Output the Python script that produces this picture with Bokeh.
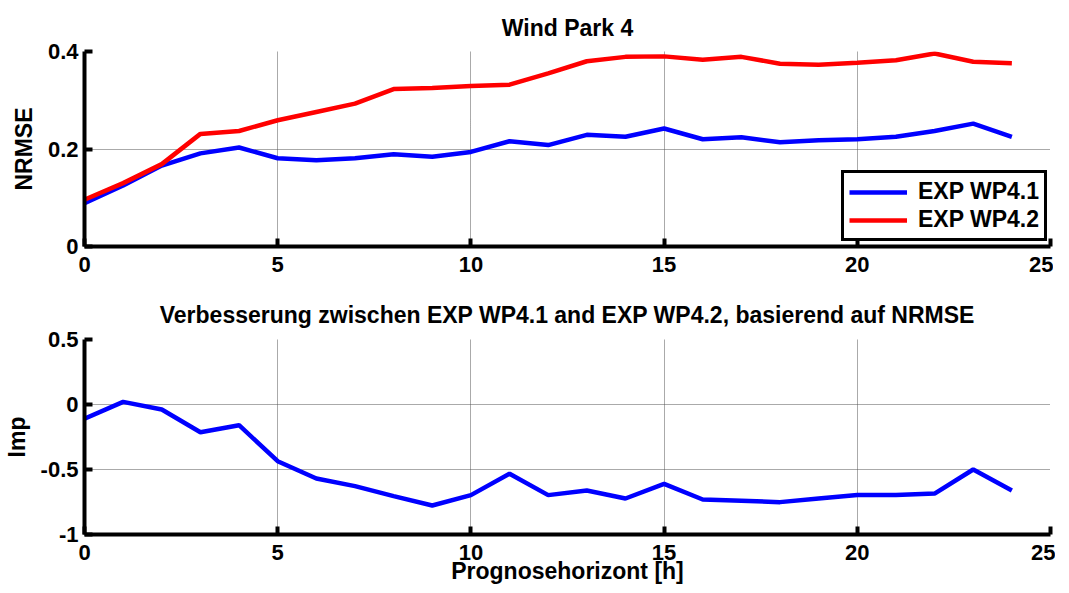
from bokeh.plotting import figure
from bokeh.layouts import column
from bokeh.models import Range1d, FixedTicker, Legend, LegendItem
from bokeh.embed import file_html
from bokeh.resources import INLINE

hours = list(range(25))
nrmse_wp41 = [0.089, 0.125, 0.166, 0.191, 0.203, 0.181, 0.177, 0.181, 0.189, 0.184,
              0.194, 0.216, 0.208, 0.229, 0.225, 0.242, 0.220, 0.224, 0.214, 0.218,
              0.220, 0.225, 0.237, 0.252, 0.225]
nrmse_wp42 = [0.096, 0.130, 0.169, 0.231, 0.237, 0.259, 0.276, 0.293, 0.323, 0.325,
              0.329, 0.332, 0.355, 0.380, 0.389, 0.390, 0.383, 0.389, 0.375, 0.373,
              0.377, 0.382, 0.396, 0.379, 0.376]
improvement = [-0.110, 0.020, -0.038, -0.213, -0.159, -0.436, -0.569, -0.628, -0.705, -0.777,
               -0.697, -0.533, -0.697, -0.662, -0.723, -0.610, -0.731, -0.741, -0.751, -0.723,
               -0.697, -0.697, -0.685, -0.500, -0.662]

x_ticks = [0, 5, 10, 15, 20, 25]
top_y_ticks = [0, 0.2, 0.4]
top_y_labels = ["0", "0.2", "0.4"]
bot_y_ticks = [-1, -0.5, 0, 0.5]
bot_y_labels = ["-1", "-0.5", "0", "0.5"]

title_top = "Wind Park 4"
title_bot = "Verbesserung zwischen EXP WP4.1 and EXP WP4.2, basierend auf NRMSE"
series_names = ["EXP WP4.1", "EXP WP4.2"]

FONT = "Liberation Sans"
BLUE = "#0000ff"
RED = "#ff0000"


def style(p, yticks, ylabels, ylabel, xlabel=None, title_standoff=16):
    p.outline_line_color = None
    p.background_fill_color = "white"
    p.border_fill_color = "white"
    p.title.text_font = FONT
    p.title.text_font_style = "bold"
    p.title.text_font_size = "23px"
    p.title.text_color = "black"
    p.title.align = "center"
    p.title.standoff = title_standoff
    for ax in (p.xaxis[0], p.yaxis[0]):
        ax.axis_line_width = 4
        ax.axis_line_color = "black"
        ax.major_tick_line_width = 4
        ax.major_tick_line_color = "black"
        ax.major_tick_in = 8
        ax.major_tick_out = 0
        ax.minor_tick_line_color = None
        ax.major_label_text_font = FONT
        ax.major_label_text_font_style = "bold"
        ax.major_label_text_font_size = "22px"
        ax.major_label_text_color = "black"
        ax.axis_label_text_font = FONT
        ax.axis_label_text_font_style = "bold"
        ax.axis_label_text_font_size = "23px"
        ax.axis_label_text_color = "black"
    p.xaxis[0].ticker = FixedTicker(ticks=x_ticks)
    p.xaxis[0].major_label_standoff = 10
    p.yaxis[0].ticker = FixedTicker(ticks=yticks)
    p.yaxis[0].major_label_overrides = {t: l for t, l in zip(yticks, ylabels)}
    p.yaxis[0].major_label_standoff = 6
    p.yaxis[0].axis_label = ylabel
    p.yaxis[0].axis_label_standoff = 8
    if xlabel:
        p.xaxis[0].axis_label = xlabel
        p.xaxis[0].axis_label_standoff = -5
    for g in (p.xgrid[0], p.ygrid[0]):
        g.grid_line_color = "#555555"
        g.grid_line_dash = "1 1"
        g.grid_line_width = 1


p1 = figure(frame_width=966, frame_height=195, output_backend="svg", toolbar_location=None,
            x_range=Range1d(0, 25), y_range=Range1d(0, 0.4), title=title_top,
            min_border_left=82, min_border_right=5, min_border_top=51, min_border_bottom=42)
style(p1, top_y_ticks, top_y_labels, "NRMSE", title_standoff=21)
p1.title.text_line_height = 0.7
r1 = p1.line(hours, nrmse_wp41, line_color=BLUE, line_width=4.5)
r2 = p1.line(hours, nrmse_wp42, line_color=RED, line_width=4.5)
legend = Legend(items=[LegendItem(label=series_names[0], renderers=[r1]),
                       LegendItem(label=series_names[1], renderers=[r2])],
                location=(757, 5))
legend.border_line_color = "black"
legend.border_line_alpha = 1
legend.border_line_width = 3
legend.background_fill_color = "white"
legend.background_fill_alpha = 1
legend.label_text_font = FONT
legend.label_text_font_style = "bold"
legend.label_text_font_size = "23px"
legend.label_text_color = "black"
legend.glyph_width = 58
legend.glyph_height = 24
legend.label_height = 24
legend.label_standoff = 11
legend.spacing = 1
legend.padding = 5
legend.margin = 0
p1.add_layout(legend)

p2 = figure(frame_width=966, frame_height=195, output_backend="svg", toolbar_location=None,
            x_range=Range1d(0, 25), y_range=Range1d(-1, 0.5), title=title_bot,
            min_border_left=82, min_border_right=5, min_border_top=51, min_border_bottom=40)
style(p2, bot_y_ticks, bot_y_labels, "Imp", "Prognosehorizont [h]", title_standoff=23)
p2.line(hours, improvement, line_color=BLUE, line_width=4.5)

layout = column(p1, p2, spacing=0)
open("out.html", "w").write(file_html(layout, INLINE))
